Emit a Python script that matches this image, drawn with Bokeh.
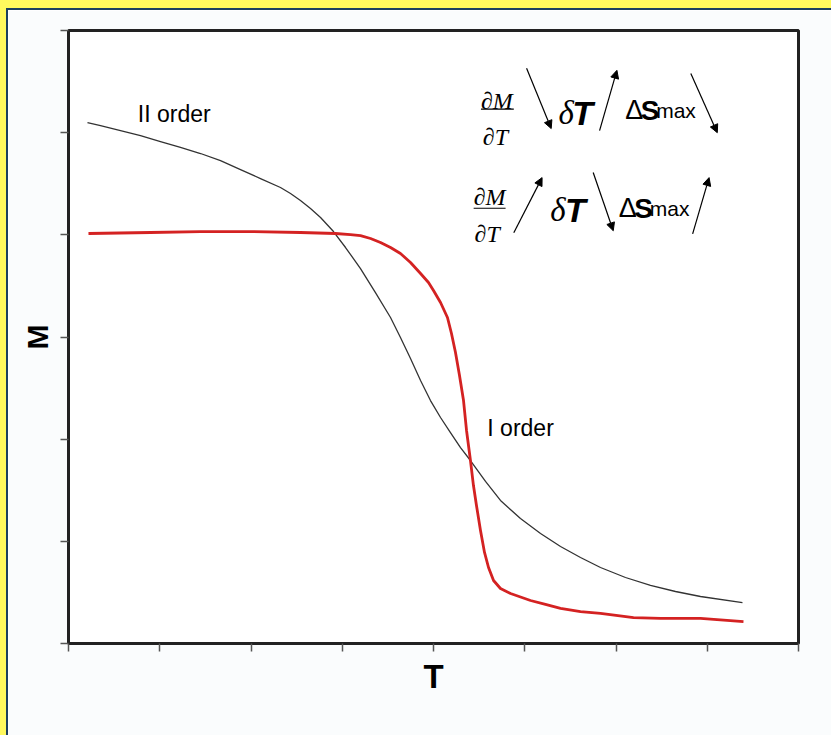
from bokeh.plotting import figure
from bokeh.models import Label, Arrow, NormalHead, FixedTicker, CustomJSTickFormatter
from bokeh.layouts import column
from bokeh.embed import file_html
from bokeh.resources import INLINE

# Second-order transition: smooth magnetisation decay M(T)
t_second = [0.208, 0.351, 0.570, 0.789, 1.008, 1.227, 1.447, 1.666, 1.885,
            2.104, 2.323, 2.433, 2.542, 2.652, 2.762, 2.904, 3.036, 3.200,
            3.364, 3.529, 3.638, 3.748, 3.858, 3.967, 4.077, 4.186, 4.296,
            4.405, 4.570, 4.734, 4.953, 5.173, 5.392, 5.611, 5.830, 6.104,
            6.378, 6.652, 6.926, 7.386]
m_second = [5.099, 5.070, 5.021, 4.972, 4.913, 4.855, 4.796, 4.727, 4.639,
            4.551, 4.463, 4.404, 4.336, 4.258, 4.170, 4.032, 3.876, 3.670,
            3.435, 3.191, 2.995, 2.789, 2.574, 2.378, 2.212, 2.065, 1.918,
            1.791, 1.586, 1.400, 1.223, 1.077, 0.949, 0.842, 0.744, 0.646,
            0.568, 0.509, 0.460, 0.401]

# First-order transition: plateau followed by an abrupt drop
t_first = [0.219, 0.899, 1.447, 1.995, 2.542, 2.926, 3.090, 3.200, 3.310,
           3.419, 3.529, 3.638, 3.748, 3.858, 3.945, 4.000, 4.077, 4.153,
           4.197, 4.241, 4.285, 4.329, 4.362, 4.405, 4.438, 4.471, 4.515,
           4.559, 4.603, 4.658, 4.734, 4.844, 5.063, 5.227, 5.392, 5.611,
           5.830, 6.192, 6.488, 6.926, 7.397]
m_first = [4.013, 4.023, 4.032, 4.032, 4.023, 4.013, 4.003, 3.993, 3.964,
           3.925, 3.876, 3.817, 3.729, 3.621, 3.533, 3.455, 3.338, 3.191,
           3.034, 2.848, 2.623, 2.378, 2.085, 1.791, 1.546, 1.351, 1.106,
           0.891, 0.744, 0.617, 0.538, 0.489, 0.421, 0.382, 0.343, 0.313,
           0.294, 0.254, 0.245, 0.245, 0.215]

x_ticks = [0, 1, 2, 3, 4, 5, 6, 7, 8]
y_ticks = [0, 1, 2, 3, 4, 5, 6]

p = figure(width=823, height=725, x_range=(0, 8), y_range=(0, 6),
           output_backend="svg", toolbar_location=None,
           min_border_left=60, min_border_right=33,
           min_border_top=20, min_border_bottom=92)
p.background_fill_color = "white"
p.border_fill_color = "#FAFCFD"
p.outline_line_color = "#222222"
p.outline_line_width = 3
p.grid.visible = False

for ax in (p.xaxis[0], p.yaxis[0]):
    ax.axis_line_color = "#222222"
    ax.axis_line_width = 3
    ax.major_tick_line_color = "#555555"
    ax.major_tick_line_width = 1.5
    ax.major_tick_out = 8
    ax.major_tick_in = 0
    ax.minor_tick_line_color = None
    ax.formatter = CustomJSTickFormatter(code="return ''")
    ax.major_label_standoff = 0
    ax.axis_label_text_font = "Liberation Sans"
    ax.axis_label_text_font_style = "bold"
    ax.axis_label_text_color = "black"

p.xaxis.ticker = FixedTicker(ticks=x_ticks)
p.yaxis.ticker = FixedTicker(ticks=y_ticks)
p.xaxis.axis_label = "T"
p.xaxis.axis_label_text_font_size = "33px"
p.xaxis.axis_label_standoff = 6
p.yaxis.axis_label = "M"
p.yaxis.axis_label_text_font_size = "30px"
p.yaxis.axis_label_standoff = 7

p.line(t_second, m_second, line_color="#333333", line_width=1.3, line_join="round")
p.line(t_first, m_first, line_color="#D42222", line_width=2.8, line_join="round")

sans = "Liberation Sans"
serif = "Liberation Serif"


def txt(x, y, s, size, font=sans, style="normal", baseline="alphabetic", align="left"):
    p.add_layout(Label(x=x, y=y, text=s, text_font=font, text_font_size=size,
                       text_font_style=style, text_color="black",
                       text_align=align, text_baseline=baseline))


def arrow(x0, y0, x1, y1, head=True):
    end = NormalHead(size=8, fill_color="black", line_color="black") if head else None
    p.add_layout(Arrow(x_start=x0, y_start=y0, x_end=x1, y_end=y1, end=end,
                       line_color="black", line_width=1.2))


txt(0.76, 5.18, "II order", "23px", baseline="middle")
txt(4.59, 2.11, "I order", "23px", baseline="middle")

# Upper row: dM/dT decreasing, dT increasing, dS_max decreasing
txt(4.52, 5.31, "∂M", "24px", font=serif, style="italic")
arrow(4.52, 5.23, 4.88, 5.23, head=False)
txt(4.54, 4.96, "∂T", "24px", font=serif, style="italic")
arrow(5.02, 5.63, 5.29, 5.04)
txt(5.37, 5.19, "δ", "33px", font=serif, style="italic")
txt(5.52, 5.19, "T", "34px", style="bold italic")
arrow(5.82, 5.02, 6.01, 5.61)
txt(6.10, 5.22, "Δ", "27px")
txt(6.27, 5.22, "S", "28px", style="bold")
txt(6.44, 5.22, "max", "21px")
arrow(6.82, 5.58, 7.11, 5.00)

# Lower row: dM/dT increasing, dT decreasing, dS_max increasing
txt(4.44, 4.37, "∂M", "24px", font=serif, style="italic")
arrow(4.44, 4.26, 4.79, 4.26, head=False)
txt(4.45, 4.01, "∂T", "24px", font=serif, style="italic")
arrow(4.88, 4.02, 5.19, 4.56)
txt(5.28, 4.24, "δ", "33px", font=serif, style="italic")
txt(5.44, 4.24, "T", "34px", style="bold italic")
arrow(5.75, 4.61, 5.97, 4.04)
txt(6.03, 4.26, "Δ", "27px")
txt(6.20, 4.26, "S", "28px", style="bold")
txt(6.37, 4.26, "max", "21px")
arrow(6.84, 4.01, 7.02, 4.56)

inner = column(p, styles={"border-left": "2px solid #1B3F5F",
                          "border-top": "2px solid #1B3F5F"})
page = column(inner, styles={"border-left": "6px solid #FFF95E",
                             "border-top": "8px solid #FFF95E"})

open("out.html", "w").write(file_html(page, INLINE))
